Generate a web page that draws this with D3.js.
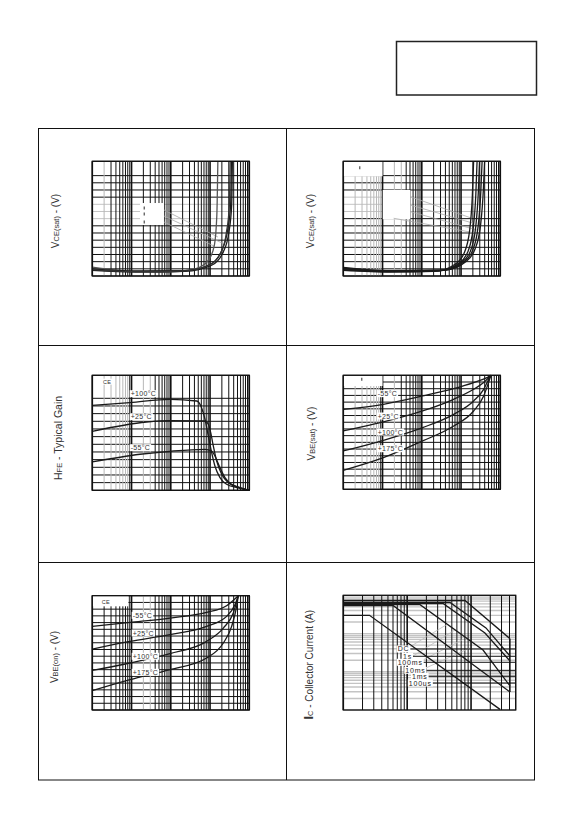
<!DOCTYPE html>
<html lang="en">
<head>
<meta charset="UTF-8">
<title>Typical characteristics</title>
<script src="https://d3js.org/d3.v7.min.js"></script>
<style>
  body { margin: 0; padding: 0; background: #fff; }
  svg { display: block; font-family: "Liberation Sans", Arial, sans-serif; }
</style>
</head>
<body>
<div id="sheet"></div>
<script>
// ---- values (x = collector current, log axis) ----
const vceSatA = [
  [[0.001,0.125],[0.0126,0.064],[0.088,0.056],[0.417,0.10],[0.91,0.22],[1.29,0.43],[1.49,0.85],[1.58,1.6]],
  [[0.001,0.08],[0.0126,0.056],[0.23,0.064],[1.1,0.15],[2.19,0.34],[3.02,0.61],[3.56,0.99],[3.7,1.6]],
  [[0.001,0.1],[0.0126,0.07],[0.23,0.075],[1.0,0.16],[2.0,0.36],[2.8,0.64],[3.35,1.0],[3.5,1.6]],
  [[0.001,0.09],[0.0126,0.06],[0.2,0.07],[0.95,0.15],[1.9,0.33],[2.6,0.6],[3.1,0.98],[3.25,1.6]]
];
const vceSatB = [
  [[0.001,0.08],[0.0158,0.056],[0.209,0.064],[0.69,0.16],[1.2,0.32],[1.66,0.64],[1.94,1.12],[2.09,1.6]],
  [[0.001,0.09],[0.0158,0.06],[0.256,0.07],[0.85,0.17],[1.47,0.33],[2.03,0.66],[2.38,1.14],[2.56,1.6]],
  [[0.001,0.1],[0.0158,0.065],[0.296,0.075],[0.98,0.18],[1.71,0.34],[2.36,0.68],[2.75,1.16],[2.96,1.6]],
  [[0.001,0.11],[0.0158,0.07],[0.344,0.08],[1.14,0.19],[1.98,0.36],[2.73,0.7],[3.19,1.18],[3.44,1.6]],
  [[0.001,0.12],[0.0158,0.075],[0.4,0.085],[1.32,0.2],[2.29,0.38],[3.16,0.72],[3.7,1.2],[3.98,1.6]]
];
const gainTemps = ["+100°C", "+25°C", "-55°C"];
const gainCurves = [
  [[0.001,110.9],[0.0091,114.3],[0.0955,118.7],[0.457,116.5],[0.608,107.8],[0.745,92.6],[0.904,70.9],[1.1,49.1],[1.33,31.7],[1.79,16.5],[2.65,7.8],[4.74,3.5],[10,0]],
  [[0.001,77],[0.0242,89.1],[0.0955,90.9],[0.745,90.4],[0.904,86.1],[1.04,75.2],[1.21,57.8],[1.47,38.3],[1.98,20.9],[2.91,10],[5.8,3.5],[10,0]],
  [[0.001,37],[0.0164,47],[0.0955,50.9],[0.745,53.5],[1.1,51.3],[1.33,44.8],[1.79,29.6],[2.4,16.5],[3.53,7.8],[7.05,2.2],[10,0]]
];
const vbeTemps = ["-55°C", "+25°C", "+100°C", "+175°C"];
const vbeSatCurves = [
  [[0.001,1.193],[0.0105,1.268],[0.105,1.392],[0.649,1.501],[2.09,1.591],[4.57,1.665],[5.78,1.7]],
  [[0.001,0.870],[0.0105,1.004],[0.105,1.168],[0.649,1.342],[2.09,1.491],[3.77,1.591],[5.78,1.7]],
  [[0.001,0.572],[0.0105,0.731],[0.105,0.920],[0.649,1.118],[2.09,1.317],[3.77,1.491],[5.05,1.640],[5.78,1.7]],
  [[0.001,0.283],[0.0105,0.472],[0.105,0.721],[0.649,0.944],[2.09,1.168],[3.77,1.392],[4.85,1.566],[5.78,1.7]]
];
const vbeOnCurves = [
  [[0.001,1.244],[0.00912,1.303],[0.0953,1.368],[0.818,1.452],[2.64,1.551],[5.25,1.7]],
  [[0.001,0.907],[0.00912,1.021],[0.0953,1.12],[0.818,1.244],[2.64,1.393],[4.31,1.566],[5.25,1.7]],
  [[0.001,0.590],[0.00912,0.699],[0.0953,0.838],[0.818,1.021],[2.18,1.219],[3.91,1.442],[5.25,1.7]],
  [[0.001,0.287],[0.00912,0.451],[0.0953,0.600],[0.818,0.773],[2.18,0.996],[3.55,1.244],[4.76,1.541],[5.25,1.7]]
];
// safe operating area: x = VCE (V), y = IC (A)
const soaNames = ["DC", "1s", "100ms", "10ms", "1ms", "100us"];
const soaCurves = [
  [[1,3.0],[2.57,3.0],[284,0.0104]],
  [[1,5.41],[6.0,5.41],[407,0.0296]],
  [[1,5.68],[15.9,5.68],[154,0.371],[407,0.0425]],
  [[1,6.11],[36.4,6.11],[165,1.03],[407,0.191]],
  [[1,6.49],[46.8,6.49],[171,1.40],[407,0.258]],
  [[1,7.31],[80.4,7.31],[407,0.733]]
];
const soaLimit = [[407,0.733],[407,0.0296]];
const soaLabelAt = [[7.1,0.394],[8.6,0.254],[7.1,0.177],[9.35,0.109],[11.9,0.076],[10.6,0.0508]];

// ---- page ----
const svg = d3.select("#sheet").append("svg").attr("width", 586).attr("height", 826);

svg.append("rect").attr("x", 396.5).attr("y", 41.5).attr("width", 140).attr("height", 53.5)
  .attr("fill", "none").attr("stroke", "#222").attr("stroke-width", 1.5);
svg.append("rect").attr("x", 38.5).attr("y", 128.5).attr("width", 496).attr("height", 651.5)
  .attr("fill", "none").attr("stroke", "#111").attr("stroke-width", 1);
svg.append("line").attr("x1", 286.5).attr("x2", 286.5).attr("y1", 128.5).attr("y2", 780).attr("stroke", "#111");
[345.5, 562.5].forEach(yy => svg.append("line").attr("x1", 38.5).attr("x2", 534.5)
  .attr("y1", yy).attr("y2", yy).attr("stroke", "#111"));

const near = (a, b, log) => log ? Math.abs(Math.log10(a) - Math.log10(b)) < 0.01 : Math.abs(a - b) < 1e-6;

function drawPanel(p) {
  const g = svg.append("g");
  const x = d3.scaleLog().domain(p.xDomain).range([p.left, p.right]);
  const y = (p.yLog ? d3.scaleLog() : d3.scaleLinear()).domain(p.yDomain).range([p.bottom, p.top]);

  // horizontal grid
  const yt = (p.yLog ? y.ticks() : y.ticks(p.yCount))
    .filter(v => !(p.ySkip || []).some(u => near(u, v, p.yLog)));
  g.selectAll(null).data(yt).join("line")
    .attr("x1", p.left).attr("x2", p.right)
    .attr("y1", d => y(d)).attr("y2", d => y(d))
    .attr("stroke", d => p.yLog || (p.yGray || []).some(u => near(u, d)) ? "#c4c4c4" : "#111")
    .attr("stroke-width", p.yLog ? 1.3 : 1);

  // vertical grid
  g.selectAll(null).data(x.ticks()).join("line")
    .attr("x1", d => x(d)).attr("x2", d => x(d))
    .attr("y1", p.top).attr("y2", p.bottom)
    .attr("stroke", d => (p.xGray || []).some(u => near(u, d, true)) ? "#b8b8b8" : "#111")
    .attr("stroke-width", d => Math.abs(Math.log10(d) - Math.round(Math.log10(d))) < 1e-6 ? 1.6 : 1);

  // blank cells
  (p.blank || []).forEach(b => {
    g.append("rect").attr("x", x(b[0])).attr("y", y(b[3]))
      .attr("width", x(b[1]) - x(b[0])).attr("height", y(b[2]) - y(b[3])).attr("fill", "#fff");
  });

  // leader lines
  (p.leaders || []).forEach(l => {
    g.append("line").attr("x1", x(l[0][0])).attr("y1", y(l[0][1]))
      .attr("x2", x(l[1][0])).attr("y2", y(l[1][1]))
      .attr("stroke", p.leaderColor || "#aaa").attr("stroke-width", p.leaderWidth || 0.8);
  });

  // curves
  const line = d3.line().x(d => x(d[0])).y(d => y(d[1])).curve(p.smooth ? d3.curveMonotoneX : d3.curveLinear);
  g.selectAll(null).data(p.curves).join("path")
    .attr("d", line).attr("fill", "none")
    .attr("stroke", (d, i) => (p.curveColors || [])[i] || "#1a1a1a")
    .attr("stroke-width", 1.3);

  // frame of the plot
  g.append("rect").attr("x", p.left).attr("y", p.top)
    .attr("width", p.right - p.left).attr("height", p.bottom - p.top)
    .attr("fill", "none").attr("stroke", "#111").attr("stroke-width", 1.3);

  // small labels with white backing
  (p.labels || []).forEach(l => {
    const t = g.append("text").attr("x", x(l.at[0])).attr("y", y(l.at[1]))
      .attr("dominant-baseline", "central").attr("font-size", l.size || 7)
      .attr("letter-spacing", l.spacing || 0.3).attr("fill", l.color || "#333").text(l.text);
    if (l.box !== false) {
      const bb = t.node().getBBox();
      g.insert("rect", () => t.node()).attr("x", bb.x - 1).attr("y", bb.y)
        .attr("width", bb.width + 2).attr("height", bb.height).attr("fill", "#fff");
      if (l.rule) {
        g.insert("line", () => t.node()).attr("x1", bb.x + bb.width + 1).attr("x2", p.right)
          .attr("y1", y(l.at[1])).attr("y2", y(l.at[1])).attr("stroke", "#111").attr("stroke-width", 1);
      }
    }
  });

  // little tick marks (unreadable legend text)
  (p.marks || []).forEach(m => {
    g.append("line").attr("x1", x(m[0])).attr("x2", x(m[0]))
      .attr("y1", y(m[1]) - 1.5).attr("y2", y(m[1]) + 1.5)
      .attr("stroke", "#666").attr("stroke-width", 1.4);
  });

  // axis title, rotated
  const tt = svg.append("text")
    .attr("transform", `translate(${p.title.x},${p.title.y}) rotate(-90)`)
    .attr("text-anchor", "middle").attr("dominant-baseline", "central")
    .attr("fill", "#333").attr("font-size", 10);
  p.title.parts.forEach(part => {
    tt.append("tspan").attr("font-size", part.size).attr("font-weight", part.bold ? "bold" : null)
      .attr("dy", part.dy || 0).text(part.t);
  });
}

const decades = [0.001, 10];
const grayLow = [0.002, 0.003, 0.004, 0.005, 0.006, 0.007, 0.008];

drawPanel({
  left: 92.3, right: 249.3, top: 161.3, bottom: 276,
  xDomain: decades, yDomain: [0, 1.6], yCount: 16, ySkip: [1.5], smooth: true,
  xGray: [0.002], yGray: [0.8, 0.9, 1.0],
  curves: vceSatA, curveColors: ["#555", "#1a1a1a", "#1a1a1a", "#333"],
  blank: [[0.0164, 0.0671, 0.711, 1.018]],
  marks: [[0.0211, 0.949], [0.0211, 0.865], [0.0211, 0.753]],
  leaders: [[[0.0671, 0.921], [1.585, 0.544]], [[0.0671, 0.837], [2.02, 0.46]], [[0.0671, 0.753], [1.26, 0.418]]],
  title: { x: 55, y: 221, parts: [{ t: "V", size: 10 }, { t: "CE(sat)", size: 7.5, dy: 1 }, { t: " - (V)", size: 10, dy: -1 }] }
});

drawPanel({
  left: 343.3, right: 500.3, top: 161.3, bottom: 276,
  xDomain: decades, yDomain: [0, 1.6], yCount: 16, ySkip: [1.5], smooth: true,
  xGray: grayLow.concat([0.009, 0.02, 0.03]), yGray: [0.9, 1.0, 1.1],
  curves: vceSatB,
  blank: [[0.001, 0.01, 1.391, 1.6], [0.0101, 0.051, 0.791, 1.2]],
  marks: [[0.00262, 1.51]],
  leaders: [[[0.051, 1.106], [1.9, 0.805]], [[0.051, 0.99], [2.09, 0.735]], [[0.051, 0.897], [2.56, 0.642]], [[0.0192, 0.805], [2.56, 0.596]]],
  title: { x: 310.3, y: 221, parts: [{ t: "V", size: 10 }, { t: "CE(sat)", size: 7.5, dy: 1 }, { t: " - (V)", size: 10, dy: -1 }] }
});

drawPanel({
  left: 92.3, right: 249.3, top: 375.3, bottom: 490.3,
  xDomain: decades, yDomain: [0, 150], yCount: 15, ySkip: [130, 140], smooth: true,
  xGray: grayLow.concat([0.02, 0.03]),
  curves: gainCurves,
  labels: [
    { text: "CE", at: [0.00187, 141.7], size: 5.5 },
    { text: gainTemps[0], at: [0.0095, 126] },
    { text: gainTemps[1], at: [0.0095, 96] },
    { text: gainTemps[2], at: [0.0095, 55.6] }
  ],
  title: { x: 57.7, y: 438, parts: [{ t: "H", size: 10.5 }, { t: "FE", size: 7.5, dy: 1 }, { t: " - Typical  Gain", size: 10.5, dy: -1 }] }
});

drawPanel({
  left: 343.3, right: 500.3, top: 375.3, bottom: 489.3,
  xDomain: decades, yDomain: [0, 1.7], yCount: 17, smooth: true,
  xGray: grayLow.concat([0.02]),
  curves: vbeSatCurves,
  blank: [[0.001, 0.01, 1.54, 1.7]],
  marks: [[0.00295, 1.64]],
  labels: vbeTemps.map((t, i) => ({ text: t, at: [0.0075, [1.426, 1.093, 0.854, 0.605][i]] })),
  title: { x: 311, y: 433.5, parts: [{ t: "V", size: 10 }, { t: "BE(sat)", size: 7.5, dy: 1 }, { t: " - (V)", size: 10, dy: -1 }] }
});

drawPanel({
  left: 92.3, right: 249.3, top: 595.7, bottom: 710,
  xDomain: decades, yDomain: [0, 1.7], yCount: 17, smooth: true,
  xGray: [0.02, 0.03],
  curves: vbeOnCurves,
  blank: [[0.001, 0.0083, 1.542, 1.7]],
  labels: [{ text: "CE", at: [0.00174, 1.606], size: 5.5, box: false }]
    .concat(vbeTemps.map((t, i) => ({ text: t, at: [0.0107, [1.408, 1.145, 0.799, 0.561][i]] }))),
  title: { x: 54.3, y: 657, parts: [{ t: "V", size: 10 }, { t: "BE(on)", size: 7.5, dy: 1 }, { t: " - (V)", size: 10, dy: -1 }] }
});

drawPanel({
  left: 343.3, right: 515.7, top: 595.3, bottom: 710,
  xDomain: [1, 500], yDomain: [0.01, 10], yLog: true, smooth: false,
  curves: soaCurves.concat([soaLimit]),
  leaders: [[[9.58, 0.39], [40.5, 1.67]], [[11.5, 0.24], [56.1, 1.24]], [[14.3, 0.17], [72.1, 0.678]], [[16.5, 0.11], [96.4, 0.419]]],
  leaderColor: "#bbb",
  labels: soaNames.map((n, i) => ({ text: n, at: soaLabelAt[i], size: 7, spacing: 0.8, color: "#222", rule: true })),
  title: { x: 308.7, y: 664.7, parts: [{ t: "I", size: 12.5, bold: true }, { t: "C", size: 7.5, dy: 1 }, { t: " - Collector Current (A)", size: 10, dy: -1 }] }
});
</script>
</body>
</html>
